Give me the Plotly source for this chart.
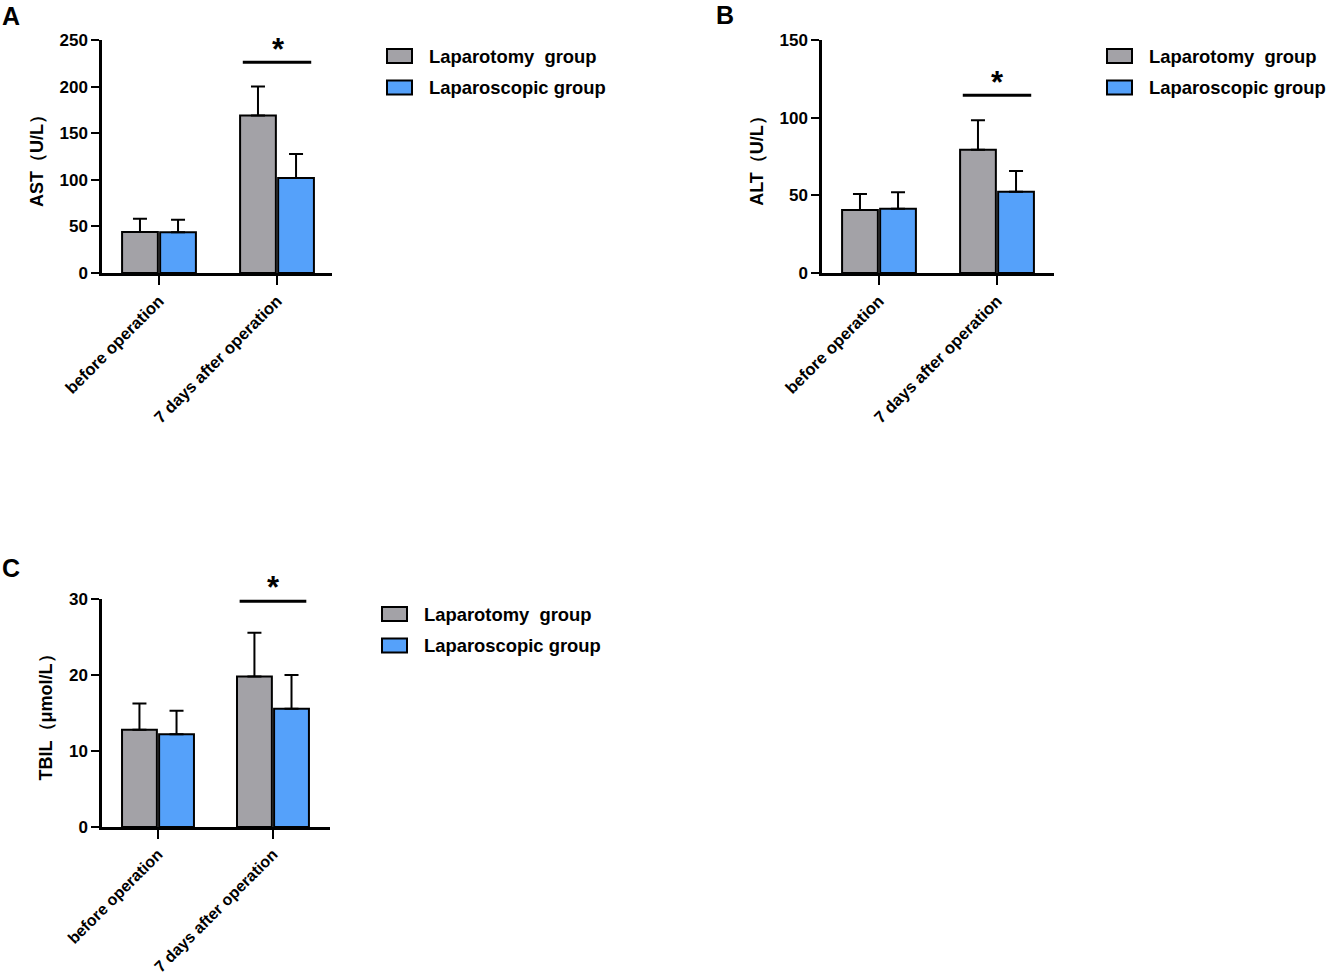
import plotly.graph_objects as go

# data (mean and upper SD)
timepoints = ["before operation", "7 days after operation"]
groups = ["Laparotomy\u00a0 group", "Laparoscopic group"]

ast_open = [44, 169]
ast_open_sd = [14.3, 31]
ast_lap = [43.6, 102]
ast_lap_sd = [13.6, 25.7]

alt_open = [40.5, 79.3]
alt_open_sd = [10.3, 19.1]
alt_lap = [41.4, 52.3]
alt_lap_sd = [10.6, 13.3]

tbil_open = [12.8, 19.8]
tbil_open_sd = [3.45, 5.75]
tbil_lap = [12.2, 15.55]
tbil_lap_sd = [3.1, 4.45]

GRAY = "#A3A2A7"
BLUE = "#55A1FA"
FONT = "Liberation Sans, Arial, Helvetica, sans-serif"
W, H = 1328, 979


def px_x(p):
    return p / W


def px_y(p):
    return 1 - p / H


panels = [
    dict(letter="A", ax="", data=(ast_open, ast_open_sd, ast_lap, ast_lap_sd),
         title="AST（U/L）", yr=[0, 250], dtick=50, xpx=(102, 332), ypx=(40, 273),
         xr=[-0.483, 1.466], sig=226, star=(278, 49), leg=(387, 49), lpos=(0, 16), xfs=16.6),
    dict(letter="B", ax="2", data=(alt_open, alt_open_sd, alt_lap, alt_lap_sd),
         title="ALT（U/L）", yr=[0, 150], dtick=50, xpx=(822, 1054), ypx=(40, 273),
         xr=[-0.483, 1.483], sig=114.4, star=(997, 82), leg=(1107, 49), lpos=(714, 15), xfs=16.6),
    dict(letter="C", ax="3", data=(tbil_open, tbil_open_sd, tbil_lap, tbil_lap_sd),
         title="TBIL（μmol/L）", yr=[0, 30], dtick=10, xpx=(102, 330), ypx=(599, 827),
         xr=[-0.487, 1.496], sig=29.7, star=(273, 587), leg=(382, 607), lpos=(0, 568), xfs=16),
]

fig = go.Figure()
shapes = []
annotations = []

for p in panels:
    o, osd, l, lsd = p["data"]
    xa = "x" + p["ax"]
    ya = "y" + p["ax"]
    for vals, sd, color, name in [(o, osd, GRAY, groups[0]), (l, lsd, BLUE, groups[1])]:
        fig.add_trace(go.Bar(
            x=timepoints, y=vals, name=name, xaxis=xa, yaxis=ya,
            marker=dict(color=color, line=dict(color="black", width=2)),
            error_y=dict(type="data", symmetric=False, array=sd, arrayminus=[0] * len(sd),
                         color="black", thickness=2, width=7),
            showlegend=False,
        ))

    axis_common = dict(showline=True, linecolor="black", linewidth=2.5, ticks="outside",
                       tickcolor="black", tickwidth=2, showgrid=False, zeroline=False,
                       automargin=False,
                       tickfont=dict(family=FONT, size=17, color="black", weight="bold"))
    fig.update_layout(**{
        "xaxis" + p["ax"]: dict(axis_common, domain=[px_x(p["xpx"][0]), px_x(p["xpx"][1])],
                                 anchor=ya, range=p["xr"], tickangle=-45, ticklen=9,
                                 type="category",
                                 tickfont=dict(family=FONT, size=p["xfs"], color="black",
                                               weight="bold")),
        "yaxis" + p["ax"]: dict(axis_common, domain=[px_y(p["ypx"][1]), px_y(p["ypx"][0])],
                                 anchor=xa, range=p["yr"], dtick=p["dtick"], ticklen=8,
                                 title=dict(text=p["title"], standoff=12,
                                            font=dict(family=FONT, size=18, color="black",
                                                      weight="bold"))),
    })

    # significance bracket over the second time point
    shapes.append(dict(type="line", xref=xa, yref=ya, x0=0.71, x1=1.29,
                       y0=p["sig"], y1=p["sig"], line=dict(color="black", width=3)))
    annotations.append(dict(text="*", xref="paper", yref="paper",
                            x=px_x(p["star"][0]), y=px_y(p["star"][1]), showarrow=False,
                            yanchor="middle", xanchor="center",
                            font=dict(family=FONT, size=31, color="black", weight="bold")))

    # panel letter
    annotations.append(dict(text=p["letter"], xref="paper", yref="paper",
                            x=px_x(p["lpos"][0]), y=px_y(p["lpos"][1]), xanchor="left",
                            yanchor="middle", showarrow=False,
                            font=dict(family=FONT, size=25, color="black", weight="bold")))

    # legend boxes drawn by hand to match the swatch shape
    lx, ly = p["leg"]
    for i, (color, name) in enumerate([(GRAY, groups[0]), (BLUE, groups[1])]):
        top = ly + i * 31.5
        shapes.append(dict(type="rect", xref="paper", yref="paper",
                           x0=px_x(lx), x1=px_x(lx + 25), y0=px_y(top + 14), y1=px_y(top),
                           fillcolor=color, line=dict(color="black", width=2)))
        annotations.append(dict(text=name, xref="paper", yref="paper",
                                x=px_x(lx + 40), y=px_y(top + 7), xanchor="left",
                                yanchor="middle", showarrow=False,
                                font=dict(family=FONT, size=18.4, color="black",
                                          weight="bold")))

fig.update_layout(
    width=W, height=H,
    margin=dict(l=0, r=0, t=0, b=0, autoexpand=False),
    plot_bgcolor="white", paper_bgcolor="white",
    barmode="group", bargap=0.355, bargroupgap=0.06,
    shapes=shapes, annotations=annotations,
    showlegend=False,
)

# drop the default page margin so the figure sits at the window's top-left corner
fig.write_html("out.html", config={"displayModeBar": False},
               post_script="document.body.style.margin = '0px';")
